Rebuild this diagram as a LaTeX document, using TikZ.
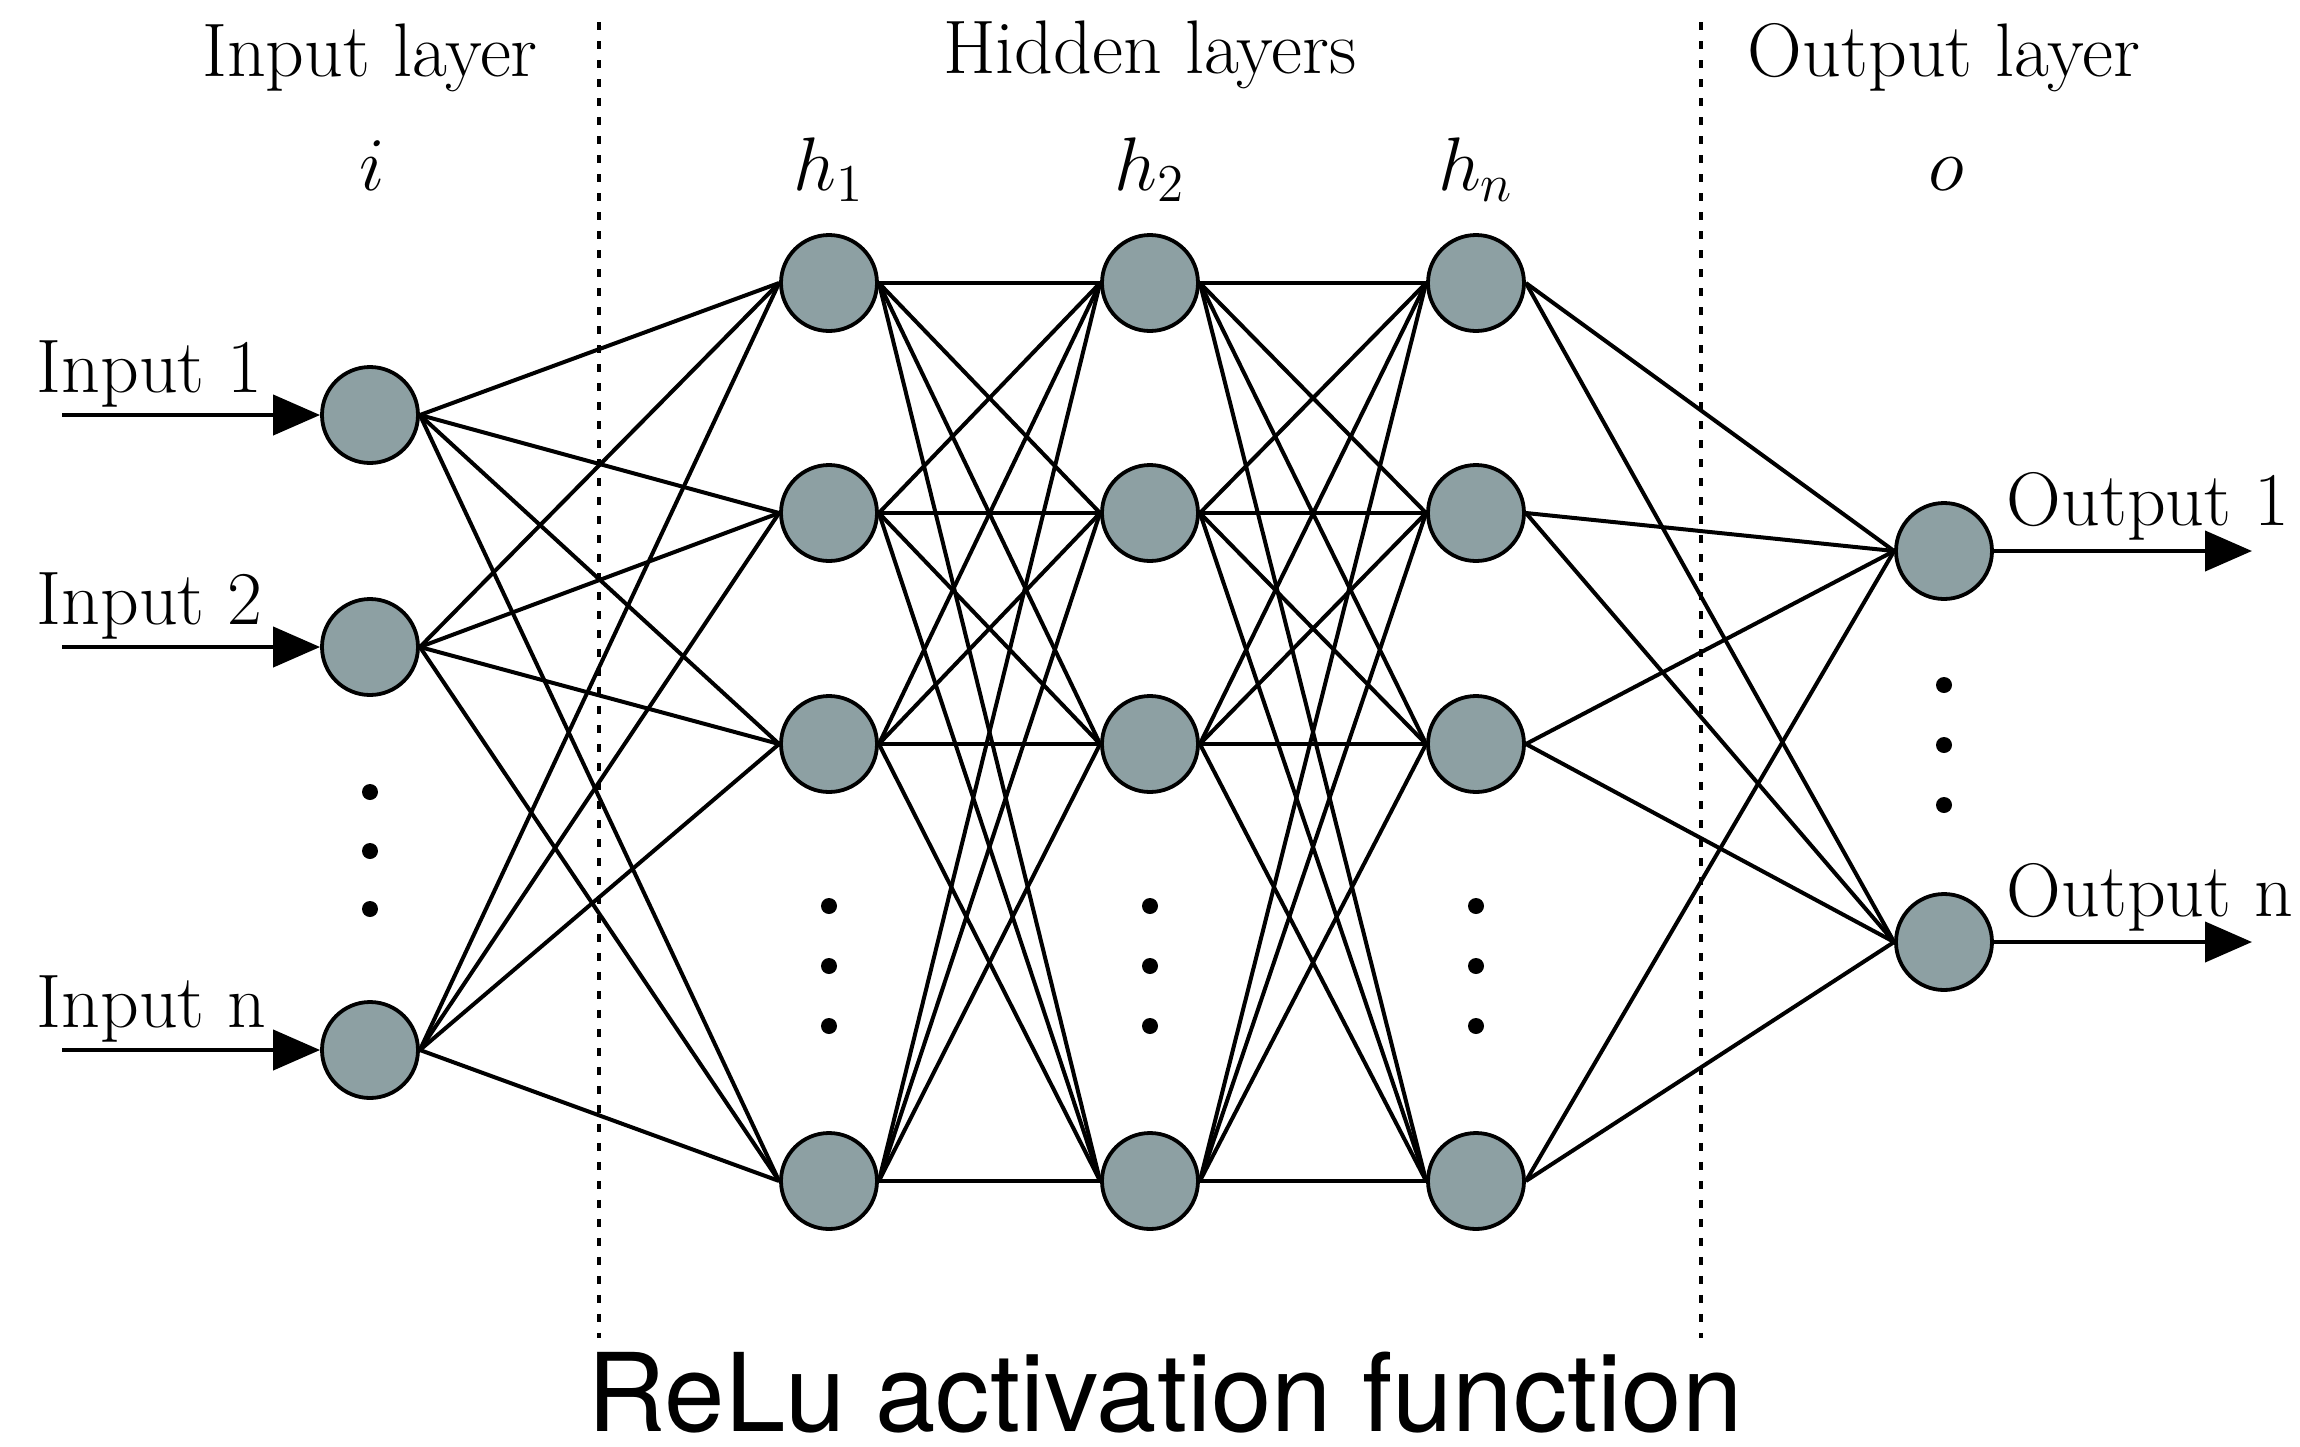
\RequirePackage{fix-cm}
\documentclass[tikz,border=0pt]{standalone}
\usepackage{fontspec}
\newfontfamily\captionsans{TeX Gyre Heros}
\usepackage{tikz}
\usetikzlibrary{arrows.meta,positioning}
\definecolor{neurongray}{RGB}{141,160,163}

\begin{document}
\begin{tikzpicture}[
  x=0.1mm, y=-0.1mm,
  neuron/.style={circle,draw,line width=0.38mm,fill=neurongray,
                 minimum size=9.6mm,inner sep=0pt},
  link/.style={line width=0.4mm},
  arr/.style={-{Triangle[length=4.7mm,width=4mm]},line width=0.42mm},
  sep/.style={line width=0.32mm,dash pattern=on 0.8mm off 1.1mm},
  lab/.style={font=\fontsize{21.6}{26}\selectfont,inner sep=0pt},
  dot/.style={circle,fill=black,inner sep=0pt,minimum size=1.6mm}
]
\useasboundingbox (0,0) rectangle (2300,1447);

% layer captions
\node[lab,anchor=base] (tin)  at (370,76)  {Input layer};
\node[lab,anchor=base] (thid) at (1150,73) {Hidden layers};
\node[lab,anchor=base] (tout) at (1944,76) {Output layer};

\node[lab,anchor=base] (li)  at (372,190)  {$i$};
\node[lab,anchor=base] (lh1) at (829,190)  {$h_1$};
\node[lab,anchor=base] (lh2) at (1150,190) {$h_2$};
\node[lab,anchor=base] (lh3) at (1476,190) {$h_n$};
\node[lab,anchor=base] (lo)  at (1946,190) {$o$};

% separators
\coordinate (s1t) at (599,22);   \coordinate (s1b) at (599,1338);
\coordinate (s2t) at (1701,22);  \coordinate (s2b) at (1701,1338);
\draw[sep] (s1t) -- (s1b);
\draw[sep] (s2t) -- (s2b);

% input layer
\node[neuron] (i1) at (370,415)  {};
\node[neuron] (i2) at (370,647)  {};
\node[neuron] (i3) at (370,1050) {};
\foreach \y in {792,851,909}
  \node[dot] (id\y) at (370,\y) {};

% hidden layers
\foreach \c/\x in {1/829,2/1150,3/1476}{
  \foreach \r/\y in {1/283,2/513,3/744,4/1181}
    \node[neuron] (h\c\r) at (\x,\y) {};
  \foreach \y in {906,966,1026}
    \node[dot] (hd\c\y) at (\x,\y) {};
}

% output layer
\node[neuron] (o1) at (1944,551) {};
\node[neuron] (o2) at (1944,942) {};
\foreach \y in {685,745,805}
  \node[dot] (od\y) at (1944,\y) {};

% connections
\foreach \a in {1,2,3}
  \foreach \b in {1,...,4}
    \draw[link] (i\a.east) -- (h1\b.west);
\foreach \c/\d in {1/2,2/3}
  \foreach \a in {1,...,4}
    \foreach \b in {1,...,4}
      \draw[link] (h\c\a.east) -- (h\d\b.west);
\foreach \a in {1,...,4}
  \foreach \b in {1,2}
    \draw[link] (h3\a.east) -- (o\b.west);

% inputs and outputs
\coordinate (x1) at (62,415);
\coordinate (x2) at (62,647);
\coordinate (x3) at (62,1050);
\foreach \k in {1,2,3}
  \draw[arr] (x\k) -- (i\k.west);
\node[lab,anchor=base west] (lx1) at (36,392)  {Input 1};
\node[lab,anchor=base west] (lx2) at (36,624)  {Input 2};
\node[lab,anchor=base west] (lx3) at (36,1027) {Input n};

\coordinate (y1) at (2252,551);
\coordinate (y2) at (2252,942);
\foreach \k in {1,2}
  \draw[arr] (o\k.east) -- (y\k);
\node[lab,anchor=base west] (ly1) at (2006,525) {Output 1};
\node[lab,anchor=base west] (ly2) at (2006,916) {Output n};

\node[font=\captionsans\fontsize{30.9}{36}\selectfont,anchor=base,inner sep=0pt]
  (cap) at (1165,1431) {ReLu activation function};
\end{tikzpicture}
\end{document}
